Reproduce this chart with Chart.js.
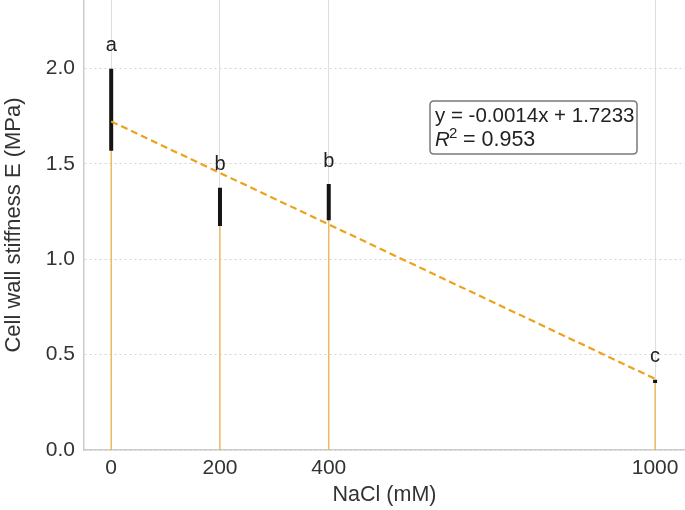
<!DOCTYPE html>
<html>
<head>
<meta charset="utf-8">
<script src="https://cdn.jsdelivr.net/npm/chart.js@4.4.1/dist/chart.umd.min.js"></script>
<style>
  html, body { margin: 0; padding: 0; background: #fff; }
  #wrap { width: 685px; height: 510px; position: relative; }
</style>
</head>
<body>
<div id="wrap"><canvas id="c" width="685" height="510"></canvas></div>
<script>
// ---- data ----
const nacl = [0, 200, 400, 1000];               // NaCl (mM)
const stiffness = [1.785, 1.275, 1.30, 0.36];   // mean cell wall stiffness E (MPa)
const sdev = [0.215, 0.10, 0.095, 0.008];       // error bar half-length (MPa)
const letters = ['a', 'b', 'b', 'c'];           // significance letters
const fitX = [0, 1000];                          // regression line ends (x)
const fitY = [1.7233, 0.373];                    // regression line ends (y)
const xTicks = [0, 200, 400, 1000];
const eqText = 'y = -0.0014x + 1.7233';
const r2Text = '= 0.953';

const FONT = "'Liberation Sans', Arial, sans-serif";
const ORANGE = '#EDA21C';

const stemData = [];
const errData = [];
nacl.forEach((x, i) => {
  stemData.push({x: x, y: 0}, {x: x, y: stiffness[i]}, {x: x, y: null});
  errData.push({x: x, y: stiffness[i] - sdev[i]}, {x: x, y: stiffness[i] + sdev[i]}, {x: x, y: null});
});
const fitData = fitX.map((x, i) => ({x: x, y: fitY[i]}));

const labelsPlugin = {
  id: 'labels',
  afterDatasetsDraw(chart) {
    const ctx = chart.ctx;
    const xs = chart.scales.x, ys = chart.scales.y;
    ctx.save();
    ctx.fillStyle = '#222';
    ctx.font = '20px ' + FONT;
    ctx.textAlign = 'center';
    ctx.textBaseline = 'middle';
    nacl.forEach((x, i) => {
      const px = xs.getPixelForValue(x);
      const py = ys.getPixelForValue(stiffness[i] + sdev[i]) - 23;
      ctx.fillText(letters[i], px, py);
    });
    // equation box
    const bx = 430, by = 101, bw = 207, bh = 53, r = 4;
    ctx.beginPath();
    ctx.moveTo(bx + r, by);
    ctx.lineTo(bx + bw - r, by);
    ctx.quadraticCurveTo(bx + bw, by, bx + bw, by + r);
    ctx.lineTo(bx + bw, by + bh - r);
    ctx.quadraticCurveTo(bx + bw, by + bh, bx + bw - r, by + bh);
    ctx.lineTo(bx + r, by + bh);
    ctx.quadraticCurveTo(bx, by + bh, bx, by + bh - r);
    ctx.lineTo(bx, by + r);
    ctx.quadraticCurveTo(bx, by, bx + r, by);
    ctx.closePath();
    ctx.fillStyle = 'rgba(255,255,255,0.9)';
    ctx.fill();
    ctx.strokeStyle = '#7a7a7a';
    ctx.lineWidth = 1.5;
    ctx.stroke();
    ctx.fillStyle = '#222';
    ctx.textAlign = 'left';
    ctx.textBaseline = 'alphabetic';
    ctx.font = '20.5px ' + FONT;
    ctx.fillText(eqText, 435, 122);
    ctx.font = 'italic 20.5px ' + FONT;
    ctx.fillText('R', 435, 146);
    ctx.font = '15px ' + FONT;
    ctx.fillText('2', 449, 138);
    ctx.font = '21.5px ' + FONT;
    ctx.fillText(r2Text, 463, 146);
    ctx.restore();
  }
};

new Chart(document.getElementById('c'), {
  type: 'scatter',
  data: {
    datasets: [
      { data: fitData, showLine: true, borderColor: ORANGE, borderWidth: 2.2,
        borderDash: [7, 4], pointRadius: 0, fill: false },
      { data: errData, showLine: true, spanGaps: false, borderColor: '#151515',
        borderWidth: 4, borderCapStyle: 'butt', pointRadius: 0, fill: false },
      { data: stemData, showLine: true, spanGaps: false, borderColor: 'rgba(236,172,60,0.7)',
        borderWidth: 1.6, pointRadius: 0, fill: false }
    ]
  },
  plugins: [labelsPlugin],
  options: {
    responsive: false,
    animation: false,
    devicePixelRatio: 1,
    layout: { padding: 0 },
    plugins: { legend: { display: false }, tooltip: { enabled: false } },
    scales: {
      x: {
        type: 'linear', min: -50, max: 1055,
        afterBuildTicks: s => { s.ticks = xTicks.map(v => ({value: v})); },
        afterFit: s => { s.height = 60; s.paddingLeft = 0; s.paddingRight = 0; },
        grid: { color: '#dedede', lineWidth: 1, drawTicks: false },
        border: { color: '#cccccc', width: 1.5 },
        ticks: { font: { family: FONT, size: 21 }, color: '#333', padding: 6, maxRotation: 0,
                 callback: v => String(v) },
        title: { display: true, text: 'NaCl (mM)', font: { family: FONT, size: 21.5 }, color: '#333',
                 padding: { top: 0, bottom: 2 } }
      },
      y: {
        type: 'linear', min: 0, max: 2.36,
        afterFit: s => { s.width = 84; s.paddingTop = 0; s.paddingBottom = 0; },
        grid: { color: '#d4d4d4', lineWidth: 1, drawTicks: false },
        border: { color: '#cccccc', width: 1.5, dash: [2, 3] },
        ticks: { stepSize: 0.5, includeBounds: false, font: { family: FONT, size: 21 }, color: '#333',
                 padding: 9, callback: v => v.toFixed(1) },
        title: { display: true, text: 'Cell wall stiffness E (MPa)', font: { family: FONT, size: 22 },
                 color: '#333', padding: { top: 1, bottom: 0 } }
      }
    }
  }
});
</script>
</body>
</html>
